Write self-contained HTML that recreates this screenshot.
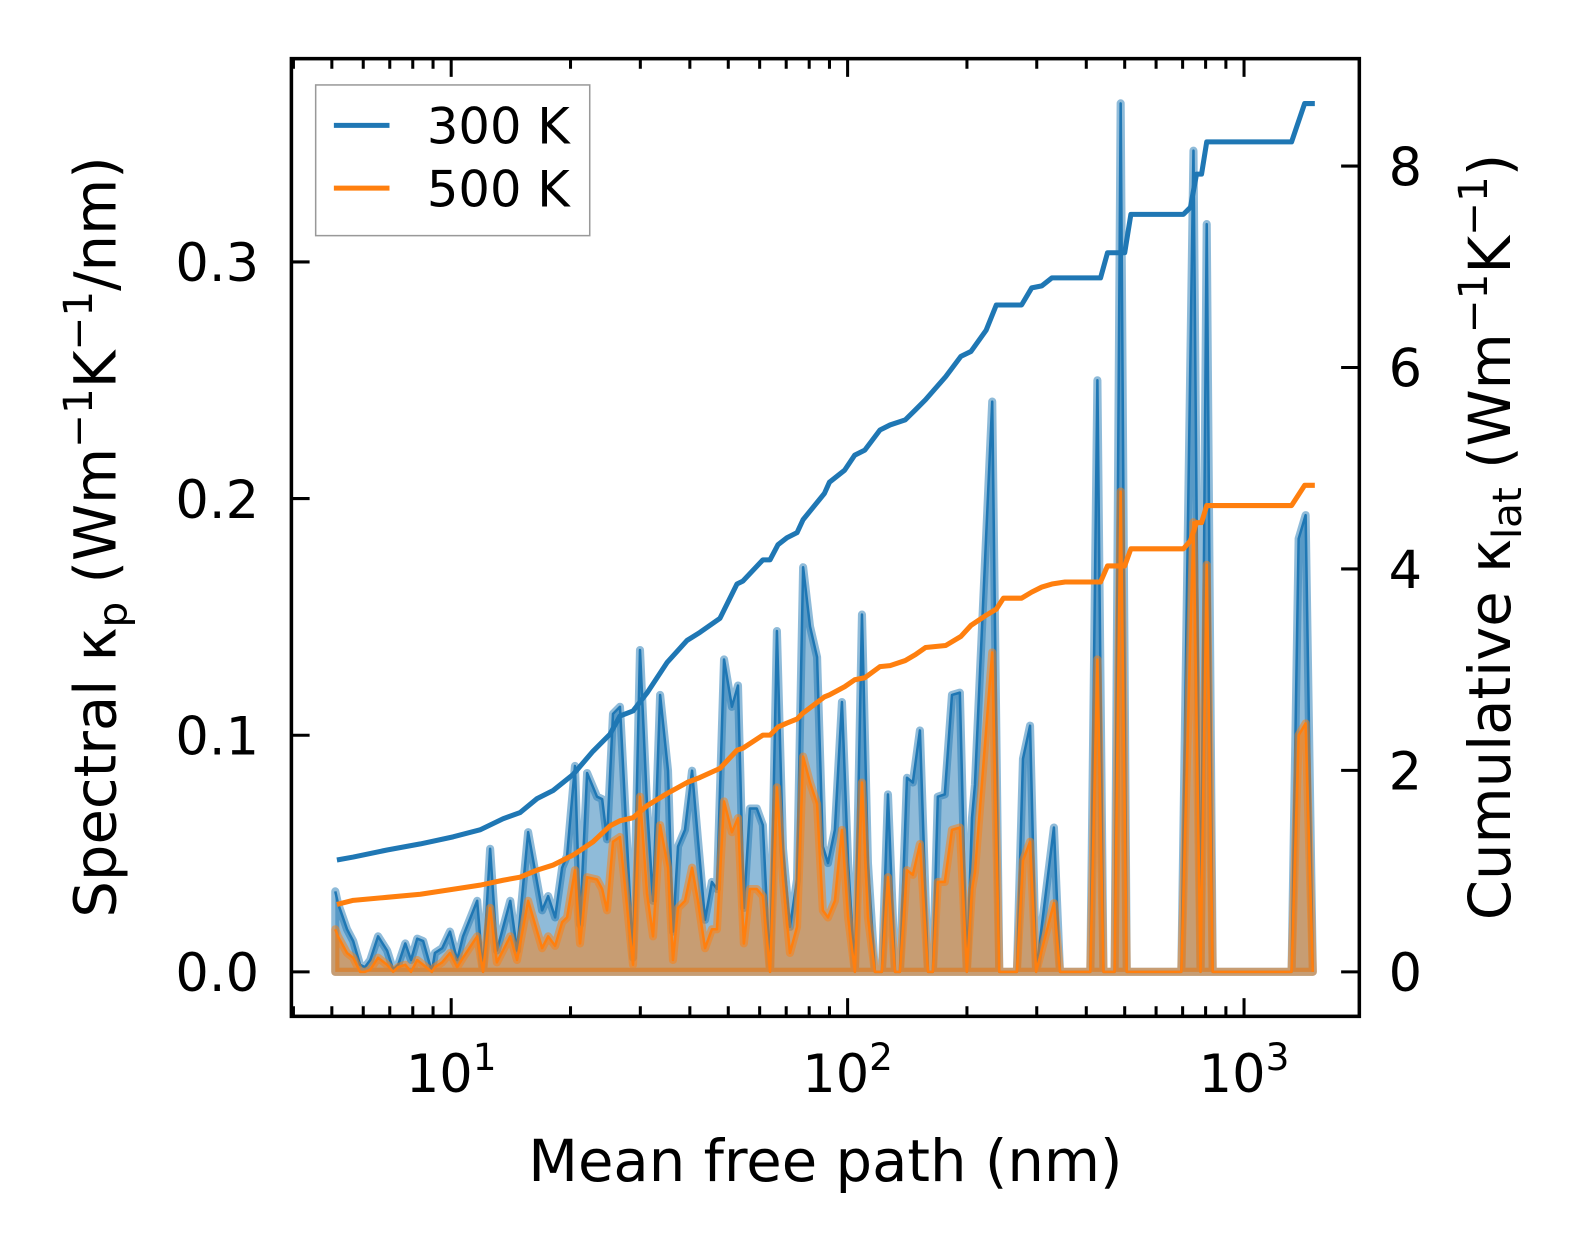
<!DOCTYPE html>
<html><head><meta charset="utf-8"><style>
html,body{margin:0;padding:0;background:#fff;}
svg{display:block;font-family:"DejaVu Sans","Liberation Sans",sans-serif;}
</style></head><body>
<svg id="chart" width="1586" height="1254" viewBox="0 0 1568 1240" xmlns="http://www.w3.org/2000/svg">
<rect x="0" y="0" width="1568" height="1240" fill="#fff"/>
<g id="plot"></g>
<g id="axes"></g>
<text x="816" y="1168" font-size="57" text-anchor="middle">Mean free path (nm)</text>
<text transform="translate(114,531) rotate(-90)" font-size="57" text-anchor="middle">Spectral κ<tspan font-size="40" dy="11">p</tspan><tspan dy="-11"> (Wm</tspan><tspan font-size="40" dy="-23">−1</tspan><tspan dy="23">K</tspan><tspan font-size="40" dy="-23">−1</tspan><tspan dy="23">/nm)</tspan></text>
<text transform="translate(1493,531) rotate(-90)" font-size="57" text-anchor="middle">Cumulative κ<tspan font-size="40" dy="11">lat</tspan><tspan dy="-11"> (Wm</tspan><tspan font-size="40" dy="-23">−1</tspan><tspan dy="23">K</tspan><tspan font-size="40" dy="-23">−1</tspan><tspan dy="23">)</tspan></text>
<g>
<rect x="312" y="84" width="271" height="149" fill="#fff" fill-opacity="0.8" stroke="#999" stroke-width="1.5"/>
<line x1="330" y1="124" x2="385" y2="124" stroke="#1f77b4" stroke-width="5"/>
<text x="422" y="142" font-size="49">300 K</text>
<line x1="330" y1="186" x2="385" y2="186" stroke="#ff7f0e" stroke-width="5"/>
<text x="422" y="204" font-size="49">500 K</text>
</g>
</svg>
<script>
// Spectral data (shared MFP bins, nm)
const mfp = [5.10,5.18,5.46,5.66,5.89,6.06,6.25,6.54,6.89,7.14,7.35,7.66,7.92,8.21,8.50,8.94,9.10,9.49,9.93,10.35,10.71,11.63,12.03,12.54,13.04,14.09,14.66,15.64,16.96,17.56,18.29,19.05,19.60,20.52,21.14,22.02,23.33,24.03,24.72,25.60,26.65,28.76,29.95,31.19,32.29,33.65,35.23,36.27,37.35,38.88,40.51,41.92,43.68,45.47,46.82,48.79,51.07,52.89,54.73,56.70,59.02,61.14,63.72,66.33,68.72,71.54,74.54,77.21,80.36,83.73,86.61,89.21,92.84,96.77,100.3,104.3,108.7,112.5,117.2,122.0,126.4,131.7,135.5,141.2,146.1,152.2,159.5,164.1,168.9,175.9,183.3,191.9,199.9,205.9,209.5,231.6,241.4,267.3,276.9,288.5,298.9,331.5,343.4,409.5,426.7,442.0,471.6,488.5,505.9,694.9,745.7,777.0,804.9,833.7,1318,1373,1430,1491];
const spec300 = [.034,.029,.018,.013,.003,.002,.005,.015,.009,.001,.003,.012,.005,.014,.013,0,.008,.010,.017,.005,.015,.030,0,.052,.009,.030,.009,.059,.026,.032,.023,.044,.049,.087,.020,.084,.074,.073,.056,.109,.112,.006,.136,.070,.030,.117,.085,.017,.053,.060,.085,.056,.022,.038,.035,.132,.112,.121,.027,.069,.069,.062,0,.144,.052,.019,.039,.171,.146,.133,.053,.046,.060,.114,.046,0,.151,.046,0,0,.075,0,0,.082,.080,.102,0,0,.074,.075,.117,.118,0,.065,.079,.241,0,0,.090,.104,0,.061,0,0,.250,0,0,.367,0,0,.347,0,.316,0,0,.183,.193,0];
const spec500 = [.018,.015,.008,.006,0,0,.001,.006,.003,0,.002,.003,0,.005,.003,0,.002,.004,.008,.002,.006,.015,0,.027,.004,.015,.005,.030,.010,.015,.011,.021,.023,.043,.012,.040,.039,.035,.026,.055,.057,.003,.074,.033,.015,.062,.044,.005,.027,.030,.044,.030,.010,.018,.018,.072,.059,.065,.012,.035,.035,.032,0,.078,.039,.008,.019,.091,.080,.071,.026,.023,.030,.060,.023,0,.080,.023,0,0,.040,0,0,.043,.041,.054,0,0,.038,.038,.060,.061,0,.035,.042,.135,0,0,.047,.055,0,.029,0,0,.132,0,0,.203,0,0,.190,0,.172,0,0,.100,.105,0];
// Cumulative data
const cumMfp = [5.15,5.66,6.89,8.36,10.11,11.82,13.52,14.91,16.47,18.08,20.31,22.79,25.16,26.65,28.76,31.19,35.03,39.34,42.41,47.65,52.59,54.42,61.14,63.72,66.71,70.29,74.54,77.21,87.39,89.99,98.24,104.2,110.5,120.7,128.0,139.8,148.3,157.2,176.8,193.1,204.8,223.6,237.1,247.2,274.7,291.3,308.9,327.6,353.6,434.4,452.5,500.0,518.1,703.1,732.6,758.9,781.6,804.9,1318,1422,1509];
const cum300 = [1.11,1.14,1.21,1.27,1.34,1.41,1.52,1.58,1.72,1.80,1.96,2.19,2.36,2.54,2.59,2.77,3.07,3.29,3.37,3.51,3.85,3.88,4.09,4.09,4.24,4.31,4.36,4.49,4.75,4.86,4.98,5.13,5.18,5.38,5.43,5.48,5.58,5.68,5.91,6.11,6.16,6.37,6.62,6.62,6.62,6.79,6.81,6.89,6.89,6.89,7.14,7.14,7.52,7.52,7.59,7.92,7.92,8.24,8.24,8.62,8.62];
const cum500 = [0.67,0.71,0.74,0.77,0.82,0.86,0.91,0.94,1.01,1.06,1.16,1.29,1.45,1.50,1.53,1.65,1.77,1.88,1.93,2.02,2.20,2.22,2.35,2.35,2.43,2.47,2.51,2.57,2.73,2.75,2.83,2.90,2.92,3.03,3.04,3.09,3.15,3.22,3.24,3.33,3.44,3.54,3.60,3.71,3.71,3.77,3.82,3.85,3.87,3.87,4.03,4.03,4.20,4.20,4.28,4.46,4.46,4.63,4.63,4.83,4.83];
const leftTicks = [0.0,0.1,0.2,0.3];
const leftTickLabels = ["0.0","0.1","0.2","0.3"];
const rightTicks = [0,2,4,6,8];
const xDecades = [1,2,3];

const AX = {l:288, r:1344, t:58, b:1005};
const X0 = 446, DEC = 392;
function xs(v){ return X0 + (Math.log10(v) - 1) * DEC; }
function yl(v){ return 961 - v * 2340; }
function yr(v){ return 961 - v * 99.6; }

const NS = "http://www.w3.org/2000/svg";
const plot = document.getElementById('plot');
const axes = document.getElementById('axes');
function mk(tag, attrs, parent){
  const e = document.createElementNS(NS, tag);
  for (const k in attrs) e.setAttribute(k, attrs[k]);
  parent.appendChild(e);
  return e;
}
function areaPath(xv, yv){
  let d = 'M' + xs(xv[0]).toFixed(1) + ',' + yl(0);
  for (let i=0;i<xv.length;i++) d += 'L' + xs(xv[i]).toFixed(1) + ',' + yl(yv[i]).toFixed(1);
  d += 'L' + xs(xv[xv.length-1]).toFixed(1) + ',' + yl(0) + 'Z';
  return d;
}
function linePath(xv, yv, yf){
  let d = '';
  for (let i=0;i<xv.length;i++) d += (i?'L':'M') + xs(xv[i]).toFixed(1) + ',' + yf(yv[i]).toFixed(1);
  return d;
}

let e = mk('path', {d: areaPath(mfp, spec300), fill:'rgba(31,119,180,0.5)', stroke:'rgba(31,119,180,0.5)', 'stroke-width':8, 'stroke-linejoin':'round'}, plot);


e = mk('path', {d: linePath(mfp, spec300, yl), fill:'none', stroke:'#1f77b4', 'stroke-width':2.5, 'stroke-linejoin':'round'}, plot);


e = mk('path', {d: areaPath(mfp, spec500), fill:'rgba(255,127,14,0.5)', stroke:'rgba(255,127,14,0.5)', 'stroke-width':8, 'stroke-linejoin':'round'}, plot);


e = mk('path', {d: linePath(mfp, spec500, yl), fill:'none', stroke:'#ff7f0e', 'stroke-width':2.5, 'stroke-linejoin':'round'}, plot);


e = mk('path', {d: linePath(cumMfp, cum300, yr), fill:'none', stroke:'#1f77b4', 'stroke-width':5, 'stroke-linejoin':'round'}, plot);


e = mk('path', {d: linePath(cumMfp, cum500, yr), fill:'none', stroke:'#ff7f0e', 'stroke-width':5, 'stroke-linejoin':'round'}, plot);



e = mk('rect', {x:AX.l, y:AX.t, width:AX.r-AX.l, height:AX.b-AX.t, fill:'none', stroke:'#000', 'stroke-width':3.5}, axes);



for (let dec=0; dec<=3; dec++){
  for (let m=1; m<=9; m++){
    const v = m * Math.pow(10, dec);
    const px = xs(v);
    if (px < AX.l+2 || px > AX.r-2) continue;
    const len = (m===1) ? 18 : 10;
    e = mk('line', {x1:px, x2:px, y1:AX.b, y2:AX.b-len, stroke:'#000', 'stroke-width':3}, axes);
    
    
    e = mk('line', {x1:px, x2:px, y1:AX.t, y2:AX.t+len, stroke:'#000', 'stroke-width':3}, axes);
    
    
  }
}
xDecades.forEach(function(p){
  const px = xs(Math.pow(10,p));
  const t = mk('text', {x:px, y:1080, 'font-size':52, 'text-anchor':'middle'}, axes);
  
  
  const a = document.createElementNS(NS,'tspan'); a.textContent = '10'; t.appendChild(a);
  const b = document.createElementNS(NS,'tspan'); b.textContent = String(p);
  b.setAttribute('font-size','37'); b.setAttribute('dy','-22'); t.appendChild(b);
});
leftTicks.forEach(function(v,i){
  const py = yl(v);
  e = mk('line', {x1:AX.l, x2:AX.l+18, y1:py, y2:py, stroke:'#000', 'stroke-width':3}, axes);
  
  
  const t = mk('text', {x:256, y:py+19, 'font-size':52, 'text-anchor':'end'}, axes);
  t.textContent = leftTickLabels[i];
  
  
});
rightTicks.forEach(function(v){
  const py = yr(v);
  e = mk('line', {x1:AX.r, x2:AX.r-18, y1:py, y2:py, stroke:'#000', 'stroke-width':3}, axes);
  
  
  const t = mk('text', {x:1373, y:py+19, 'font-size':52, 'text-anchor':'start'}, axes);
  t.textContent = String(v);
  
  
});
</script>
</body></html>
